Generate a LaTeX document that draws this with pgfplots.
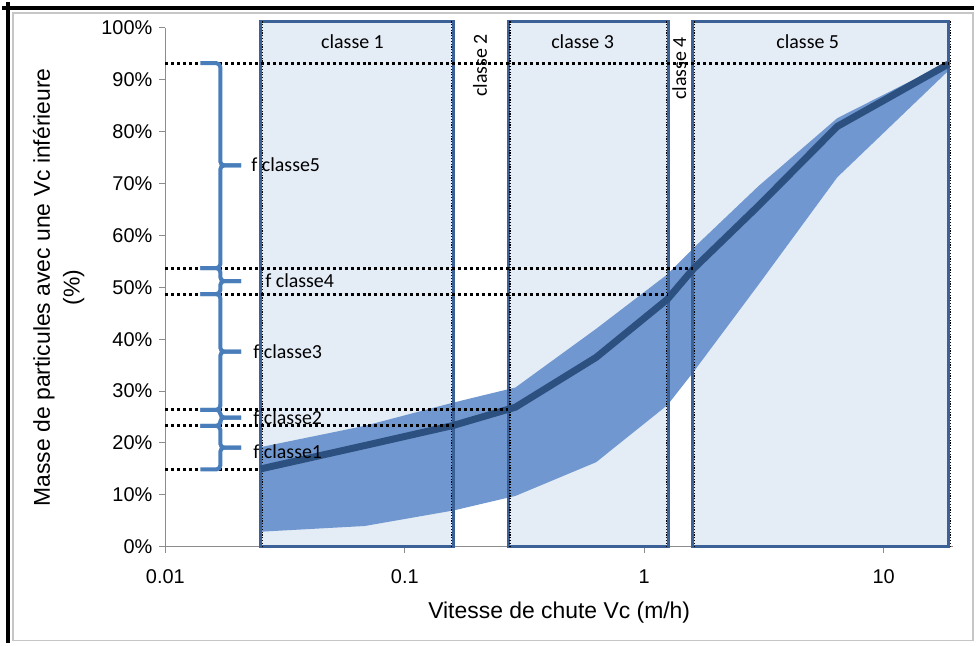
\documentclass[border=0pt]{standalone}
\usepackage{fontspec}
\setmainfont{Liberation Sans}
\newfontfamily\calib{Carlito}
\usepackage{pgfplots}
\usepackage{pgfplotstable}
\pgfplotsset{compat=1.18}
\usepgfplotslibrary{fillbetween}
\definecolor{boxfill}{HTML}{E4ECF6}
\definecolor{boxline}{HTML}{3B6196}
\definecolor{bandfill}{HTML}{7097CF}
\definecolor{medline}{HTML}{2C5080}
\definecolor{bracecol}{HTML}{4A7EBB}
\definecolor{axgray}{HTML}{8C8C8C}

% vitesse de chute, enveloppe basse, mediane, enveloppe haute
\pgfplotstableread{
x     lo    med   up
0.025 2.9   15.0  19.2
0.068 4.0   19.5  23.3
0.16  7.0   23.4  27.8
0.29  9.8   26.9  30.7
0.63  16.3  36.5  42.0
1.25  27.3  47.7  52.5
1.6   33.6  53.5  57.5
3     50.5  65.7  69.5
6.4   71.2  81.0  82.6
18.6  91.7  93.0  93.4
}\courbe

% accolade : haut, bas, milieu
\newcommand{\fbrace}[3]{%
  \draw[bracecol, line width=2pt, rounded corners=2pt]
    ([xshift=17.6pt]axis cs:0.01,#1) -- ([xshift=27.6pt]axis cs:0.01,#1)
    -- ([xshift=27.6pt]axis cs:0.01,#3) -- ([xshift=38pt]axis cs:0.01,#3);
  \draw[bracecol, line width=2pt, rounded corners=2pt]
    ([xshift=17.6pt]axis cs:0.01,#2) -- ([xshift=27.6pt]axis cs:0.01,#2)
    -- ([xshift=27.6pt]axis cs:0.01,#3) -- ([xshift=38pt]axis cs:0.01,#3);
}

\begin{document}
\begin{tikzpicture}
\begin{axis}[
  scale only axis,
  width=395.5pt, height=260.5pt,
  xmode=log, xmin=0.01, xmax=19.5,
  ymin=0, ymax=100,
  clip=false,
  axis x line=bottom, axis y line=left,
  axis line style={-, draw=axgray, line width=0.5pt},
  tick style={draw=axgray, line width=0.5pt},
  tick align=outside, major tick length=3pt,
  xtick={0.01,0.1,1,10}, xticklabels={0.01,0.1,1,10},
  xminorticks=false,
  ytick={0,10,...,100},
  yticklabels={0\%,10\%,20\%,30\%,40\%,50\%,60\%,70\%,80\%,90\%,100\%},
  ticklabel style={font=\fontsize{10}{12}\selectfont},
  xticklabel style={yshift=-5pt},
  xlabel={Vitesse de chute Vc (m/h)},
  xlabel style={font=\fontsize{11.5}{14}\selectfont, at={(axis description cs:0.5,-0.1267)}, anchor=center},
  ylabel={Masse de particules avec une Vc inférieure\\(\%)},
  ylabel style={font=\fontsize{11.5}{15}\selectfont, align=center, at={(axis description cs:-0.1353,0.5)}, anchor=center},
]
% classes
\addplot[draw=none, fill=boxfill, on layer=axis background] coordinates {(0.025,0) (0.025,101.3) (0.16,101.3) (0.16,0)} -- cycle;
\addplot[draw=none, fill=boxfill, on layer=axis background] coordinates {(0.27,0) (0.27,101.3) (1.26,101.3) (1.26,0)} -- cycle;
\addplot[draw=none, fill=boxfill, on layer=axis background] coordinates {(1.59,0) (1.59,101.3) (18.6,101.3) (18.6,0)} -- cycle;

% enveloppe
\addplot[name path=up, draw=none, forget plot] table[x=x, y=up] {\courbe};
\addplot[name path=lo, draw=none, forget plot] table[x=x, y=lo] {\courbe};
\addplot[bandfill, draw=none] fill between[of=up and lo];

% bords des classes
\addplot[boxline, line width=1.5pt] coordinates {(0.025,0) (0.025,101.3) (0.16,101.3) (0.16,0)} -- cycle;
\addplot[boxline, line width=1.5pt] coordinates {(0.27,0) (0.27,101.3) (1.26,101.3) (1.26,0)} -- cycle;
\addplot[boxline, line width=1.5pt] coordinates {(1.59,0) (1.59,101.3) (18.6,101.3) (18.6,0)} -- cycle;
\addplot[black, line width=0.6pt, dash pattern=on 0.6pt off 0.8pt, xshift=1pt] coordinates {(0.025,0) (0.025,101.3)};
\addplot[black, line width=0.6pt, dash pattern=on 0.6pt off 0.8pt, xshift=-1pt] coordinates {(0.16,0) (0.16,101.3)};
\addplot[black, line width=0.6pt, dash pattern=on 0.6pt off 0.8pt, xshift=1pt] coordinates {(0.27,0) (0.27,101.3)};
\addplot[black, line width=0.6pt, dash pattern=on 0.6pt off 0.8pt, xshift=-1pt] coordinates {(1.26,0) (1.26,101.3)};
\addplot[black, line width=0.6pt, dash pattern=on 0.6pt off 0.8pt, xshift=1pt] coordinates {(1.59,0) (1.59,101.3)};
\addplot[black, line width=0.6pt, dash pattern=on 0.6pt off 0.8pt, xshift=1pt] coordinates {(18.6,0) (18.6,101.3)};

% mediane
\addplot[medline, line width=3.5pt, line join=round] table[x=x, y=med] {\courbe};

% lignes pointillees
\addplot[black, line width=1.5pt, dash pattern=on 1.5pt off 1.5pt] coordinates {(0.01,93.2) (18.6,93.2)};
\addplot[black, line width=1.5pt, dash pattern=on 1.5pt off 1.5pt] coordinates {(0.01,53.7) (1.6,53.7)};
\addplot[black, line width=1.5pt, dash pattern=on 1.5pt off 1.5pt] coordinates {(0.01,48.7) (1.25,48.7)};
\addplot[black, line width=1.5pt, dash pattern=on 1.5pt off 1.5pt] coordinates {(0.01,26.4) (0.27,26.4)};
\addplot[black, line width=1.5pt, dash pattern=on 1.5pt off 1.5pt] coordinates {(0.01,23.3) (0.16,23.3)};
\addplot[black, line width=1.5pt, dash pattern=on 1.5pt off 1.5pt] coordinates {(0.01,14.9) (0.025,14.9)};

% accolades
\fbrace{93.2}{53.7}{73.5}
\fbrace{53.7}{48.7}{51.2}
\fbrace{48.7}{26.4}{37.6}
\fbrace{26.4}{23.3}{24.9}
\fbrace{23.3}{14.9}{19.1}

\begin{scope}[every node/.style={font=\calib\fontsize{10}{12}\selectfont, inner sep=0pt}]
\node[anchor=west] at ([xshift=43pt]axis cs:0.01,73.6) {f classe5};
\node[anchor=west] at ([xshift=50pt]axis cs:0.01,51.2) {f classe4};
\node[anchor=west] at ([xshift=44pt]axis cs:0.01,37.6) {f classe3};
\node[anchor=west] at ([xshift=44pt]axis cs:0.01,24.9) {f classe2};
\node[anchor=west] at ([xshift=44pt]axis cs:0.01,18.4) {f classe1};
\node at (axis cs:0.0605,97.3) {classe 1};
\node at (axis cs:0.553,97.3) {classe 3};
\node at (axis cs:4.82,97.3) {classe 5};
\node[rotate=90] at (axis cs:0.206,92.8) {classe 2};
\node[rotate=90] at (axis cs:1.40,92.2) {classe 4};
\end{scope}
\end{axis}
% cadre
\draw[gray!45, line width=0.6pt] (-76.5pt,-47pt) rectangle (405.5pt,268pt);
\draw[black, line width=2pt] (-82pt,270.5pt) -- (406pt,270.5pt);
\draw[black, line width=2pt] (-79pt,273.5pt) -- (-79pt,-48.5pt);
\path[use as bounding box] (-82pt,-48.5pt) rectangle (406pt,273.5pt);
\end{tikzpicture}
\end{document}
